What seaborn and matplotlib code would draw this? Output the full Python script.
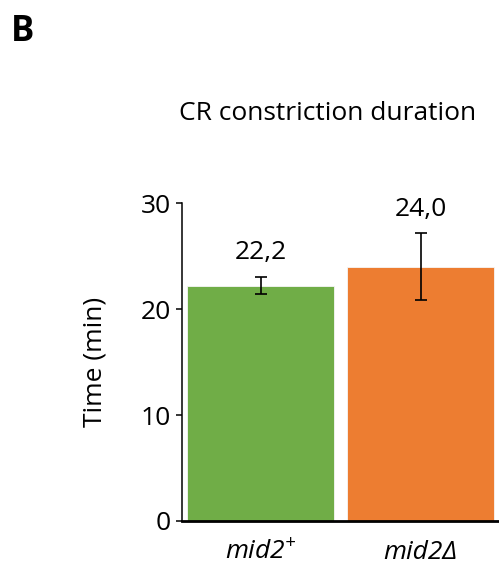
import pandas as pd
import numpy as np
import matplotlib
matplotlib.use("Agg")
import matplotlib.pyplot as plt
import seaborn as sns

# data
strains = [r"$mid2^{+}$", "mid2\u0394"]
mean_time = [22.2, 24.0]
err_time = [0.8, 3.15]
value_labels = ["22,2", "24,0"]
bar_colors = ["#70AD47", "#ED7D31"]

sns.set_style("white")
plt.rcParams['font.family'] = ['Open Sans', 'DejaVu Sans']
# mathtext only used for the superscript label -> keep it all italic
plt.rcParams['mathtext.fontset'] = 'custom'
plt.rcParams['mathtext.it'] = 'Open Sans:italic'
plt.rcParams['mathtext.rm'] = 'Open Sans:italic'
plt.rcParams['text.color'] = 'black'
plt.rcParams['axes.labelcolor'] = 'black'
plt.rcParams['xtick.color'] = 'black'
plt.rcParams['ytick.color'] = 'black'

df = pd.DataFrame({"strain": strains, "time": mean_time, "err": err_time})

fig = plt.figure(figsize=(4.99, 5.69), dpi=100)
ax = fig.add_axes([0.365, 0.0844, 0.635, 0.5586])

sns.barplot(data=df, x="strain", y="time", hue="strain", palette=bar_colors,
            saturation=1, width=0.92, errorbar=None, legend=False, ax=ax,
            edgecolor="#f6f6f6", linewidth=0.6)
ax.errorbar(x=np.arange(len(strains)), y=df["time"], yerr=df["err"], fmt="none",
            ecolor="black", elinewidth=1.2, capsize=4, capthick=1.2)

# value labels above error bars
for i, lab in enumerate(value_labels):
    ax.annotate(lab, (i, mean_time[i] + err_time[i]), xytext=(0, 8.5),
                textcoords="offset points", ha="center", va="bottom", fontsize=19)

ax.set_ylim(0, 30)
ax.set_xlim(-0.49, 1.49)
ax.set_yticks([0, 10, 20, 30])
ax.tick_params(axis="y", labelsize=19, length=4, width=1.1, direction="out", left=True, pad=4)
ax.tick_params(axis="x", length=0, pad=14)
for lab in ax.get_xticklabels():
    lab.set_fontsize(19)
    lab.set_style("italic")
ax.set_xlabel("")
ax.set_ylabel("Time (min)", fontsize=19, labelpad=24)

sns.despine(ax=ax)
ax.spines["left"].set_linewidth(1.1)
ax.spines["bottom"].set_linewidth(2)
ax.spines["left"].set_color("black")
ax.spines["bottom"].set_color("black")

fig.text(0.656, 0.80, "CR constriction duration", ha="center", va="center", fontsize=19)
fig.text(0.022, 0.944, "B", ha="left", va="center", fontsize=25, fontweight="bold")

fig.savefig("out.png", dpi=100)
